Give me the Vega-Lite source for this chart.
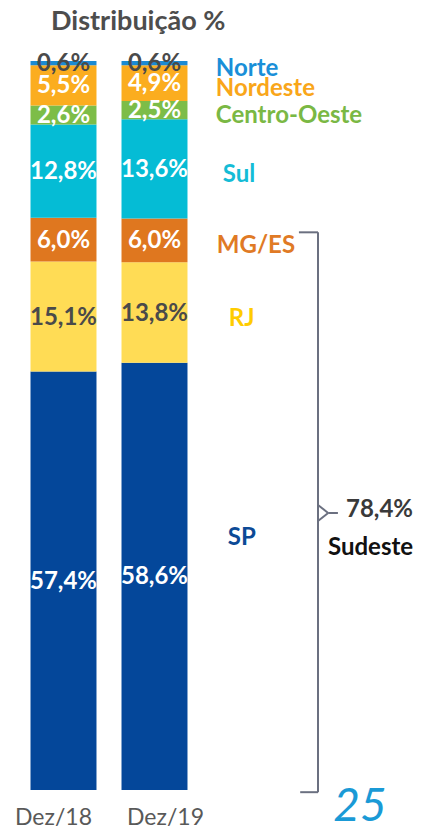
{
  "$schema": "https://vega.github.io/schema/vega-lite/v6.json",
  "width": 424,
  "height": 729,
  "autosize": {"type": "none"},
  "padding": {"left": 0, "top": 61, "right": 0, "bottom": 43},
  "background": "white",
  "config": {"view": {"stroke": null}, "font": "Lato"},
  "data": {"values": [
    {"periodo": "Dez/18", "regiao": "SP", "pct": 57.4, "ordem": 1},
    {"periodo": "Dez/18", "regiao": "RJ", "pct": 15.1, "ordem": 2},
    {"periodo": "Dez/18", "regiao": "MG/ES", "pct": 6.0, "ordem": 3},
    {"periodo": "Dez/18", "regiao": "Sul", "pct": 12.8, "ordem": 4},
    {"periodo": "Dez/18", "regiao": "Centro-Oeste", "pct": 2.6, "ordem": 5},
    {"periodo": "Dez/18", "regiao": "Nordeste", "pct": 5.5, "ordem": 6},
    {"periodo": "Dez/18", "regiao": "Norte", "pct": 0.6, "ordem": 7},
    {"periodo": "Dez/19", "regiao": "SP", "pct": 58.6, "ordem": 1},
    {"periodo": "Dez/19", "regiao": "RJ", "pct": 13.8, "ordem": 2},
    {"periodo": "Dez/19", "regiao": "MG/ES", "pct": 6.0, "ordem": 3},
    {"periodo": "Dez/19", "regiao": "Sul", "pct": 13.6, "ordem": 4},
    {"periodo": "Dez/19", "regiao": "Centro-Oeste", "pct": 2.5, "ordem": 5},
    {"periodo": "Dez/19", "regiao": "Nordeste", "pct": 4.9, "ordem": 6},
    {"periodo": "Dez/19", "regiao": "Norte", "pct": 0.6, "ordem": 7}
  ]},
  "transform": [
    {"stack": "pct", "groupby": ["periodo"], "sort": [{"field": "ordem", "order": "ascending"}], "as": ["v0", "v1"]},
    {"calculate": "(datum.v0 + datum.v1) / 2", "as": "meio"},
    {"calculate": "replace(format(datum.pct, '.1f'), '.', ',') + '%'", "as": "rotulo"}
  ],
  "resolve": {"scale": {"x": "independent", "color": "independent"}},
  "layer": [
    {
      "mark": {"type": "bar"},
      "encoding": {
        "x": {"field": "periodo", "type": "nominal", "sort": ["Dez/18", "Dez/19"],
              "scale": {"range": [18, 200], "paddingInner": 0.275, "paddingOuter": 0.1375}, "axis": null},
        "y": {"field": "v0", "type": "quantitative", "scale": {"domain": [0, 100], "nice": false, "zero": true}, "axis": null},
        "y2": {"field": "v1"},
        "color": {"field": "regiao", "type": "nominal",
                  "scale": {"domain": ["Norte", "Nordeste", "Centro-Oeste", "Sul", "MG/ES", "RJ", "SP"],
                            "range": ["#1b8ad3", "#fbad1f", "#7dbd48", "#05bcd5", "#df771f", "#ffdc55", "#04479a"]},
                  "legend": null}
      }
    },
    {
      "mark": {"type": "text", "fontSize": 24, "fontWeight": "bold", "font": "Lato", "baseline": "middle", "align": "center", "dy": 1},
      "encoding": {
        "x": {"field": "periodo", "type": "nominal", "sort": ["Dez/18", "Dez/19"],
              "scale": {"range": [18, 200], "paddingInner": 0.275, "paddingOuter": 0.1375}, "axis": null},
        "y": {"field": "meio", "type": "quantitative"},
        "text": {"field": "rotulo"},
        "color": {"condition": {"test": "datum.regiao === 'Norte' || datum.regiao === 'RJ'", "value": "#4a4a4a"}, "value": "#ffffff"}
      }
    },
    {
      "transform": [{"filter": "datum.ordem === 1"}],
      "mark": {"type": "text", "fontSize": 23, "font": "Lato", "baseline": "middle", "align": "center", "color": "#595959",
               "dx": {"expr": "datum.periodo === 'Dez/18' ? -10 : 11"}},
      "encoding": {
        "x": {"field": "periodo", "type": "nominal", "sort": ["Dez/18", "Dez/19"],
              "scale": {"range": [18, 200], "paddingInner": 0.275, "paddingOuter": 0.1375}, "axis": null},
        "y": {"datum": -3.8, "type": "quantitative"},
        "text": {"field": "periodo"}
      }
    },
    {
      "data": {"values": [{}]},
      "mark": {"type": "text", "fontSize": 27, "fontWeight": "bold", "font": "Lato", "baseline": "middle", "align": "center", "color": "#4d4d4d"},
      "encoding": {
        "x": {"datum": 0.326, "type": "quantitative", "scale": {"domain": [0, 1], "nice": false, "zero": false}, "axis": null},
        "y": {"datum": 105.4, "type": "quantitative"},
        "text": {"value": "Distribuição %"}
      }
    },
    {
      "transform": [{"filter": "datum.periodo === 'Dez/19'"}],
      "mark": {"type": "text", "fontSize": 24, "fontWeight": "bold", "font": "Lato", "baseline": "middle", "align": "left",
               "dx": {"expr": "datum.regiao === 'Sul' ? 7 : datum.regiao === 'RJ' ? 13 : datum.regiao === 'SP' ? 12 : datum.regiao === 'MG/ES' ? 1 : 0"},
               "dy": {"expr": "datum.regiao === 'SP' ? -38 : 6"}},
      "encoding": {
        "x": {"datum": 0.509, "type": "quantitative", "scale": {"domain": [0, 1], "nice": false, "zero": false}, "axis": null},
        "y": {"field": "meio", "type": "quantitative"},
        "text": {"field": "regiao"},
        "color": {"field": "regiao", "type": "nominal",
                  "scale": {"domain": ["Norte", "Nordeste", "Centro-Oeste", "Sul", "MG/ES", "RJ", "SP"],
                            "range": ["#1a8fd8", "#f9a61a", "#7ab844", "#14bcd6", "#e07a25", "#ffcc00", "#0c4a96"]},
                  "legend": null}
      }
    },
    {
      "data": {"values": [{}]},
      "mark": {"type": "rule", "color": "#6b7080", "strokeWidth": 2},
      "encoding": {
        "x": {"datum": 0.705, "type": "quantitative", "scale": {"domain": [0, 1], "nice": false, "zero": false}, "axis": null},
        "x2": {"datum": 0.750},
        "y": {"datum": 76.5, "type": "quantitative"}
      }
    },
    {
      "data": {"values": [{}]},
      "mark": {"type": "rule", "color": "#6b7080", "strokeWidth": 2},
      "encoding": {
        "x": {"datum": 0.750, "type": "quantitative", "scale": {"domain": [0, 1], "nice": false, "zero": false}, "axis": null},
        "y": {"datum": 76.5, "type": "quantitative"},
        "y2": {"datum": -0.3}
      }
    },
    {
      "data": {"values": [{}]},
      "mark": {"type": "rule", "color": "#6b7080", "strokeWidth": 2},
      "encoding": {
        "x": {"datum": 0.708, "type": "quantitative", "scale": {"domain": [0, 1], "nice": false, "zero": false}, "axis": null},
        "x2": {"datum": 0.750},
        "y": {"datum": -0.3, "type": "quantitative"}
      }
    },
    {
      "data": {"values": [{}]},
      "mark": {"type": "rule", "color": "#6b7080", "strokeWidth": 2},
      "encoding": {
        "x": {"datum": 0.750, "type": "quantitative", "scale": {"domain": [0, 1], "nice": false, "zero": false}, "axis": null},
        "x2": {"datum": 0.774},
        "y": {"datum": 39.1, "type": "quantitative"},
        "y2": {"datum": 38.0}
      }
    },
    {
      "data": {"values": [{}]},
      "mark": {"type": "rule", "color": "#6b7080", "strokeWidth": 2},
      "encoding": {
        "x": {"datum": 0.750, "type": "quantitative", "scale": {"domain": [0, 1], "nice": false, "zero": false}, "axis": null},
        "x2": {"datum": 0.774},
        "y": {"datum": 36.9, "type": "quantitative"},
        "y2": {"datum": 38.0}
      }
    },
    {
      "data": {"values": [{}]},
      "mark": {"type": "rule", "color": "#6b7080", "strokeWidth": 2},
      "encoding": {
        "x": {"datum": 0.774, "type": "quantitative", "scale": {"domain": [0, 1], "nice": false, "zero": false}, "axis": null},
        "x2": {"datum": 0.797},
        "y": {"datum": 38.0, "type": "quantitative"}
      }
    },
    {
      "data": {"values": [{}]},
      "mark": {"type": "text", "fontSize": 24, "fontWeight": "bold", "font": "Lato", "baseline": "middle", "align": "center", "color": "#3a3a3a"},
      "encoding": {
        "x": {"datum": 0.895, "type": "quantitative", "scale": {"domain": [0, 1], "nice": false, "zero": false}, "axis": null},
        "y": {"datum": 38.4, "type": "quantitative"},
        "text": {"value": "78,4%"}
      }
    },
    {
      "data": {"values": [{}]},
      "mark": {"type": "text", "fontSize": 24, "fontWeight": "bold", "font": "Lato", "baseline": "middle", "align": "center", "color": "#111111"},
      "encoding": {
        "x": {"datum": 0.874, "type": "quantitative", "scale": {"domain": [0, 1], "nice": false, "zero": false}, "axis": null},
        "y": {"datum": 33.2, "type": "quantitative"},
        "text": {"value": "Sudeste"}
      }
    },
    {
      "data": {"values": [{}]},
      "mark": {"type": "text", "fontSize": 46, "fontStyle": "italic", "font": "Lato", "baseline": "middle", "align": "center", "color": "#1a9ad6"},
      "encoding": {
        "x": {"datum": 0.849, "type": "quantitative", "scale": {"domain": [0, 1], "nice": false, "zero": false}, "axis": null},
        "y": {"datum": -2.3, "type": "quantitative"},
        "text": {"value": "25"}
      }
    }
  ]
}
